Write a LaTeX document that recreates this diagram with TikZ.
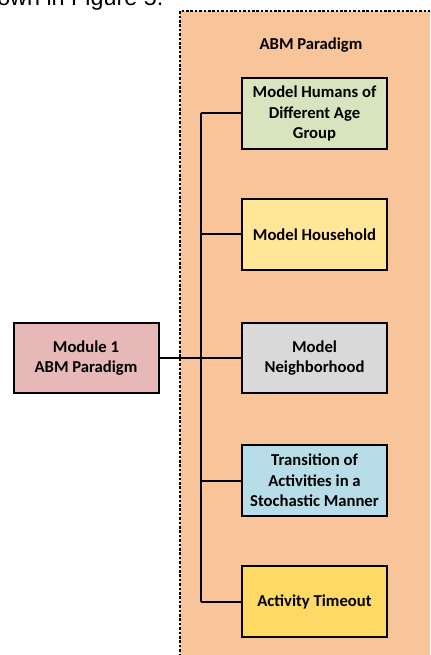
\documentclass[tikz,border=0pt]{standalone}
\usepackage{fontspec}
\setmainfont{Carlito}
\newfontfamily\arialfont{Liberation Sans}
\definecolor{panelorange}{HTML}{F8C59A}
\definecolor{agegreen}{HTML}{D7E4BD}
\definecolor{houseyellow}{HTML}{FFE699}
\definecolor{neighgrey}{HTML}{D9D9D9}
\definecolor{transblue}{HTML}{B7DEE8}
\definecolor{timeyellow}{HTML}{FFD966}
\definecolor{modpink}{HTML}{E6B9B8}
\begin{document}
\begin{tikzpicture}[x=0.75pt,y=-0.75pt,
  blk/.style={draw=black,line width=1.5pt,minimum width=108.75pt,minimum height=53pt,
    inner sep=2pt,align=center,font=\bfseries\fontsize{12.5}{15.5}\selectfont},
  link/.style={line width=1.5pt}]
  \useasboundingbox (0,0) rectangle (430,655);
  \begin{scope}
    \clip (0,0) rectangle (430,655);
    \node[anchor=base west,inner sep=0pt,font=\arialfont\fontsize{17.5}{19}\selectfont] (caption) at (-3,6) {own in Figure 5.};
    % dashed panel
    \fill[panelorange] (180,11) rectangle (440,665);
    \draw[line width=1.2pt,dash pattern=on 2pt off 1.3pt] (180,665) -- (180,11) -- (440,11);
  \end{scope}
  \node[font=\bfseries\fontsize{12.5}{15.5}\selectfont] (title) at (311,45) {ABM Paradigm};

  \node[blk,fill=agegreen] (age) at (314.5,113.5) {Model Humans of\\Different Age\\Group};
  \node[blk,fill=houseyellow] (house) at (314.5,234.5) {Model Household};
  \node[blk,fill=neighgrey] (neigh) at (314.5,358) {Model\\Neighborhood};
  \node[blk,fill=transblue] (trans) at (314.5,480.5) {Transition of\\Activities in a\\Stochastic Manner};
  \node[blk,fill=timeyellow] (timeout) at (314.5,601.5) {Activity Timeout};
  \node[blk,fill=modpink] (mod) at (86,358) {Module 1\\ABM Paradigm};

  % bus and branches
  \coordinate (bus) at (201,0);
  \draw[link] (age.west -| bus) -- (timeout.west -| bus);
  \foreach \b in {age,house,neigh,trans,timeout}
    \draw[link] (\b.west) -- (\b.west -| bus);
  \draw[line width=1pt] (mod.east) -- (neigh.west -| bus);
\end{tikzpicture}
\end{document}
